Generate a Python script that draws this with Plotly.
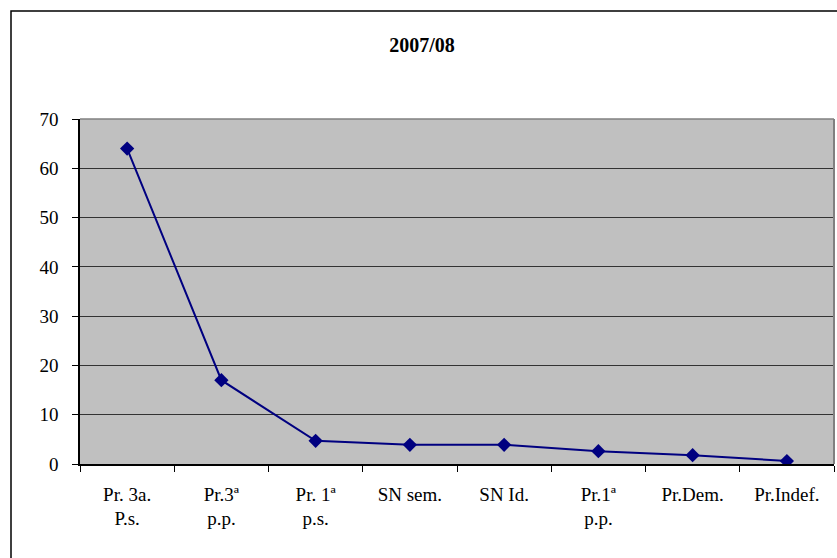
import plotly.graph_objects as go

categories = ["Pr. 3a.<br>P.s.", "Pr.3ª<br>p.p.", "Pr. 1ª<br>p.s.", "SN sem.", "SN Id.",
              "Pr.1ª<br>p.p.", "Pr.Dem.", "Pr.Indef."]
values = [64, 17, 4.7, 3.9, 3.9, 2.6, 1.8, 0.6]
y_ticks = [0, 10, 20, 30, 40, 50, 60, 70]

L, R, T, B = 80, 3, 119, 94
W, H = 837, 558
pw, ph = W - L - R, H - T - B
SERIF = "Liberation Serif"

fig = go.Figure()
fig.add_trace(go.Scatter(
    x=categories, y=values, mode="lines+markers",
    line=dict(color="#000080", width=2),
    marker=dict(symbol="diamond", size=11, color="#000080"),
    showlegend=False,
))

fig.update_layout(
    width=W, height=H,
    margin=dict(l=L, r=R, t=T, b=B, autoexpand=False),
    paper_bgcolor="white",
    plot_bgcolor="#C0C0C0",
    font=dict(family=SERIF, color="black"),
    title=dict(text="<b>2007/08</b>", x=422 / W, xref="container", xanchor="center",
               y=1 - 45 / H, yref="container", yanchor="middle",
               font=dict(size=20, family=SERIF, color="black")),
    xaxis=dict(
        type="category", range=[-0.5, 7.5], tickson="boundaries",
        ticks="outside", ticklen=6, tickcolor="black",
        showline=True, linecolor="black", linewidth=1.5,
        showgrid=False, tickfont=dict(size=19, family=SERIF), ticklabelstandoff=12,
        automargin=False,
    ),
    yaxis=dict(
        range=[0, 70], tickvals=y_ticks, ticks="outside", ticklen=6, tickcolor="black",
        showline=True, linecolor="black", linewidth=1.5,
        showgrid=True, gridcolor="#333333", gridwidth=1, zeroline=False,
        tickfont=dict(size=19, family=SERIF), ticklabelstandoff=10,
        automargin=False,
    ),
    shapes=[
        dict(type="rect", xref="paper", yref="paper",
             x0=(11 - L) / pw, x1=(W + 20 - L) / pw,
             y0=-(B + 20) / ph, y1=1 + (T - 11) / ph,
             line=dict(color="black", width=1.5), fillcolor="rgba(0,0,0,0)", layer="below"),
        dict(type="line", xref="paper", yref="paper", x0=1, x1=1, y0=0, y1=1,
             line=dict(color="#808080", width=2)),
        dict(type="line", xref="paper", yref="paper", x0=0, x1=1, y0=1, y1=1,
             line=dict(color="#808080", width=1.5)),
    ],
)

fig.write_html("out.html", config={"displayModeBar": False},
               post_script="document.body.style.margin='0';")
